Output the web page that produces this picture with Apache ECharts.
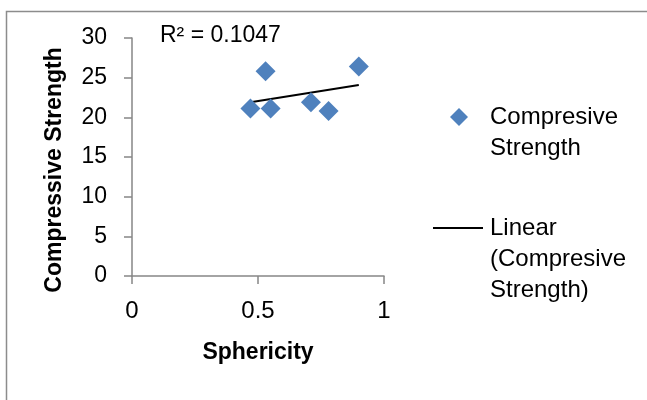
<!DOCTYPE html>
<html>
<head>
<meta charset="utf-8">
<script src="https://cdn.jsdelivr.net/npm/echarts@6/dist/echarts.min.js"></script>
<style>
  html, body { margin: 0; padding: 0; background: #ffffff; }
  #chart { width: 647px; height: 400px; }
</style>
</head>
<body>
<div id="chart"></div>
<script>
// sphericity vs compressive strength
const sphericity = [0.47, 0.53, 0.55, 0.71, 0.78, 0.90];
const strength = [21.1, 25.8, 21.1, 21.9, 20.8, 26.4];
const xTicks = [0, 0.5, 1];
const yTicks = [0, 5, 10, 15, 20, 25, 30];
const r2Label = 'R² = 0.1047';

const FONT = '"Liberation Sans", Arial, sans-serif';

// least squares line for the trendline
function linearFit(xs, ys) {
  const n = xs.length;
  const mx = xs.reduce((a, b) => a + b, 0) / n;
  const my = ys.reduce((a, b) => a + b, 0) / n;
  let sxy = 0, sxx = 0;
  for (let i = 0; i < n; i++) {
    sxy += (xs[i] - mx) * (ys[i] - my);
    sxx += (xs[i] - mx) * (xs[i] - mx);
  }
  const slope = sxy / sxx;
  return { slope, intercept: my - slope * mx };
}

const fit = linearFit(sphericity, strength);
const xMin = Math.min(...sphericity);
const xMax = Math.max(...sphericity);
const trend = [
  [xMin, fit.intercept + fit.slope * xMin],
  [xMax, fit.intercept + fit.slope * xMax]
];

const chart = echarts.init(document.getElementById('chart'), null, { renderer: 'canvas' });

const axisGray = '#868686';

let option = {
  backgroundColor: '#ffffff',
  animation: false,
  textStyle: { fontFamily: FONT },
  grid: { left: 132, right: 263, top: 38, bottom: 124 },
  xAxis: {
    type: 'value',
    min: xTicks[0],
    max: xTicks[xTicks.length - 1],
    interval: 0.5,
    name: 'Sphericity',
    nameLocation: 'middle',
    nameGap: 65,
    nameTextStyle: { fontFamily: FONT, fontSize: 23, fontWeight: 'bold', color: '#000' },
    axisLine: { lineStyle: { color: axisGray, width: 1.5 } },
    axisTick: { show: true, inside: false, length: 8, lineStyle: { color: axisGray, width: 1.5 } },
    axisLabel: { margin: 23, fontSize: 24, color: '#000', fontFamily: FONT },
    splitLine: { show: false }
  },
  yAxis: {
    type: 'value',
    min: yTicks[0],
    max: yTicks[yTicks.length - 1],
    interval: 5,
    name: 'Compressive Strength',
    nameLocation: 'middle',
    nameGap: 66,
    nameRotate: 90,
    nameTextStyle: { fontFamily: FONT, fontSize: 23, fontWeight: 'bold', color: '#000', padding: [0, 26, 0, 0] },
    axisLine: { show: true, lineStyle: { color: axisGray, width: 1.5 } },
    axisTick: { show: true, inside: false, length: 8, lineStyle: { color: axisGray, width: 1.5 } },
    axisLabel: { margin: 25, fontSize: 23, color: '#000', fontFamily: FONT },
    splitLine: { show: false }
  },
  series: [
    {
      name: 'Compresive Strength',
      type: 'scatter',
      symbol: 'diamond',
      symbolSize: 20,
      itemStyle: { color: '#4F81BD', opacity: 1 },
      data: sphericity.map((x, i) => [x, strength[i]]),
      z: 3
    },
    {
      name: 'Linear (Compresive Strength)',
      type: 'line',
      symbol: 'none',
      lineStyle: { color: '#000', width: 2 },
      data: trend,
      z: 2
    }
  ],
  graphic: [
    // outer frame of the chart box
    {
      type: 'rect',
      shape: { x: 6.5, y: 11.5, width: 700, height: 450 },
      style: { fill: 'none', stroke: '#8c8c8c', lineWidth: 1.5 },
      silent: true
    },
    {
      type: 'text',
      x: 160, y: 24,
      style: { text: r2Label, font: '23px ' + FONT, fill: '#000' }
    },
    // legend
    {
      type: 'polygon',
      shape: { points: [[459, 108], [468, 117], [459, 126], [450, 117]] },
      style: { fill: '#4F81BD' }
    },
    {
      type: 'text',
      x: 490, y: 102,
      style: { text: 'Compresive\nStrength', font: '24px ' + FONT, fill: '#000', lineHeight: 31 }
    },
    {
      type: 'line',
      shape: { x1: 433, y1: 228, x2: 483, y2: 228 },
      style: { stroke: '#000', lineWidth: 2 }
    },
    {
      type: 'text',
      x: 490, y: 213,
      style: { text: 'Linear\n(Compresive\nStrength)', font: '24px ' + FONT, fill: '#000', lineHeight: 31 }
    }
  ]
};

chart.setOption(option);
</script>
</body>
</html>
